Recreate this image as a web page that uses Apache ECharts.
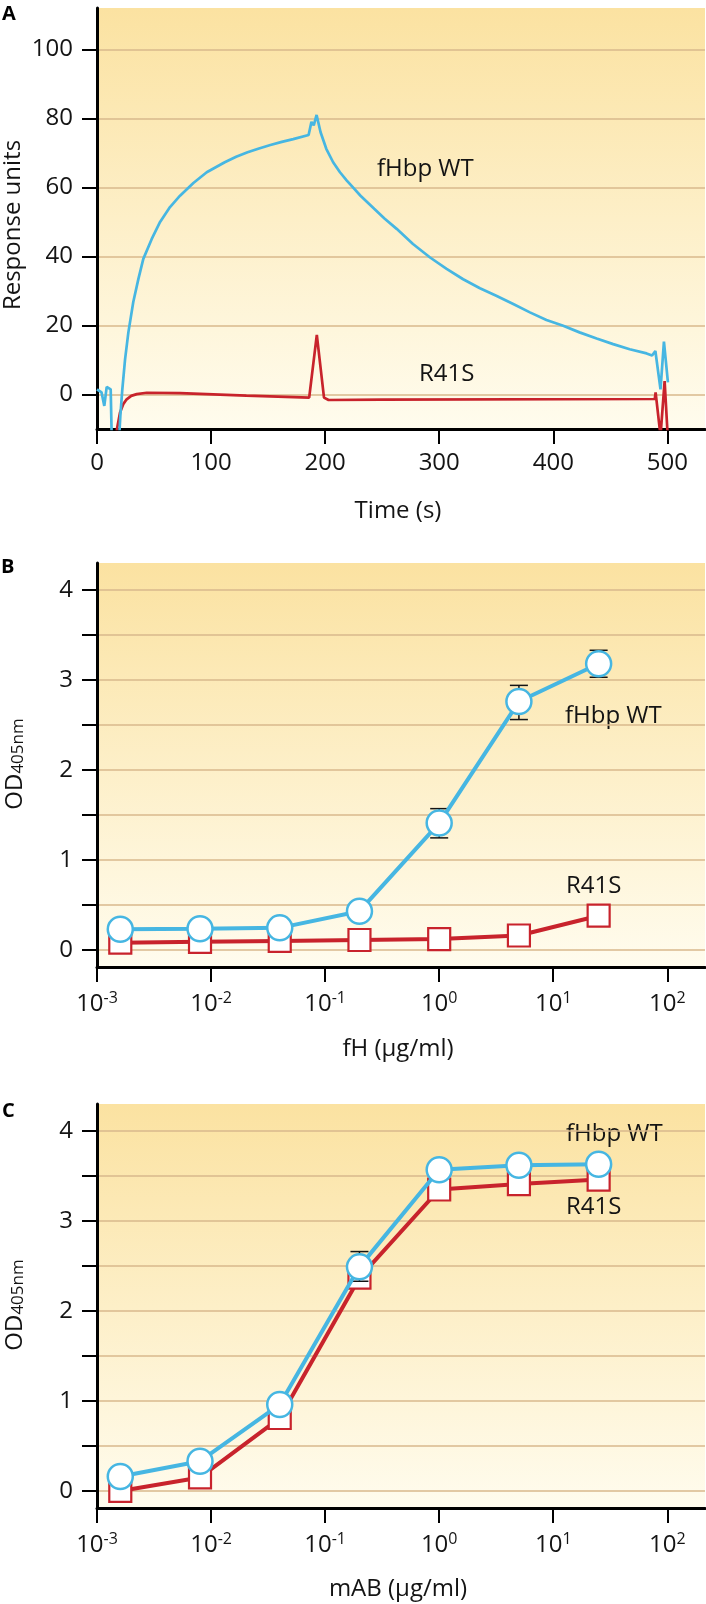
<!DOCTYPE html>
<html><head><meta charset="utf-8">
<script src="https://cdn.jsdelivr.net/npm/echarts@6/dist/echarts.min.js"></script>
<style>html,body{margin:0;padding:0;background:#fff}#c{width:706px;height:1604px}</style>
</head><body><div id="c"></div>
<script>
const FONT = '"Open Sans", "DejaVu Sans", sans-serif';

// ---- Panel A: sensorgram ----
const timeTicks = [0, 100, 200, 300, 400, 500];
const ruTicks = [0, 20, 40, 60, 80, 100];
const wtSensorgram = [
  [0,1.5],[1,1.7],[4,0.6],[6.4,-3.3],[8.5,2.2],[12,1.5],[13,-14],
  [19.5,-12],[20.5,-6],[22.2,1.5],[24.6,10.2],[27.5,18],[31.8,26.8],[36.3,33.5],[40.6,39.3],
  [47.9,45],[55.3,50],[64,54.3],[72.8,57.6],[84.5,61.3],[96.2,64.4],[112,67.3],[122,68.9],
  [132,70.2],[142,71.3],[152,72.3],[162,73.2],[172,74],[185.5,75.2],[188,79],[190,78],
  [192.5,81],[196,76],[201,71.2],[207,67.3],[213,64.4],[219,62],[225,59.8],[231,57.6],
  [237,55.7],[243,53.8],[252,51],[262.7,48],[277,43.6],[292,39.7],[306.5,36.4],[321,33.4],
  [335.7,30.8],[350,28.6],[364.9,26.2],[379.5,23.8],[394,21.6],[408.7,19.9],[423,18],
  [438,16.2],[452.5,14.6],[467,13.1],[481.8,11.9],[486.6,11.3],[489.5,12.6],[494,1.5],
  [497,15.3],[500.5,3.5]
];
const r41sSensorgram = [
  [17,-12],[17.5,-10],[20.2,-5.2],[23,-2.8],[26,-1.4],[30,-0.4],[34.8,0.1],[43.6,0.5],
  [72.8,0.4],[131,-0.3],[186,-0.9],[192.7,17.3],[199,-0.9],[203,-1.6],[250,-1.5],
  [489,-1.3],[489.7,0.6],[494,-12],[497.6,3.9],[500.3,-12]
];

// ---- Panels B and C: ELISA ----
const concentrations = [0.0016, 0.008, 0.04, 0.2, 1, 5, 25];
const logTicks = [0.001, 0.01, 0.1, 1, 10, 100];
const odTicks = [0, 0.5, 1, 1.5, 2, 2.5, 3, 3.5, 4];
const odLabels = [0, 1, 2, 3, 4];
const fhWT = [0.23, 0.235, 0.245, 0.43, 1.41, 2.76, 3.18];
const fhR41S = [0.08, 0.09, 0.10, 0.11, 0.12, 0.16, 0.38];
const fhWTErr = [[1, 1.245, 1.57], [5, 2.56, 2.94], [25, 3.03, 3.33]];
const mabWT = [0.16, 0.33, 0.96, 2.49, 3.57, 3.62, 3.63];
const mabR41S = [0.0, 0.15, 0.81, 2.37, 3.35, 3.41, 3.46];
const mabWTErr = [[0.2, 2.33, 2.66]];

const BLUE = '#46b6e2', RED = '#c8232c', GRID = '#d8b98c', INK = '#141414';
const bg = {type:'linear', x:0, y:0, x2:0, y2:1, colorStops:[{offset:0,color:'#fbe2a1'},{offset:1,color:'#fffcee'}]};

function gridCfg(top, height) {
  return {left:97, width:608, top, height, show:true, backgroundColor:bg, borderWidth:0, containLabel:false};
}
function yAxisCfg(gi, min, max, ticks, labels) {
  return {type:'value', gridIndex:gi, min, max,
    axisLine:{show:true, onZero:false, lineStyle:{color:'#000', width:3}},
    axisTick:{show:true, inside:false, length:15, customValues:ticks, lineStyle:{color:'#000', width:2}},
    axisLabel:{show:true, customValues:labels, margin:24, color:INK, fontSize:24, fontFamily:FONT},
    splitLine:{show:true, lineStyle:{color:GRID, width:1.5}}};
}
function logXAxis(gi) {
  return {type:'log', logBase:10, gridIndex:gi, min:0.001, max:214,
    axisLine:{show:true, onZero:false, lineStyle:{color:'#000', width:3}},
    axisTick:{show:true, length:15, customValues:logTicks, lineStyle:{color:'#000', width:2}},
    axisLabel:{show:true, customValues:logTicks, margin:23, color:INK, fontFamily:FONT,
      formatter: v => '{b|10}{s|' + Math.round(Math.log10(v)) + '}',
      rich:{b:{fontSize:24, lineHeight:26, verticalAlign:'bottom', fontFamily:FONT, color:INK},
            s:{fontSize:16, lineHeight:14, verticalAlign:'top', fontFamily:FONT, color:INK}}},
    splitLine:{show:false}};
}
function pairs(xs, ys) { return xs.map((x, i) => [x, ys[i]]); }
function errSeries(gi, data) {
  return {type:'custom', xAxisIndex:gi, yAxisIndex:gi, z:3, silent:true, data,
    encode:{x:0, y:[1,2]},
    renderItem(params, api) {
      const x = api.value(0);
      const top = api.coord([x, api.value(2)]);
      const bot = api.coord([x, api.value(1)]);
      const w = 9, st = {stroke:INK, lineWidth:1.5};
      return {type:'group', children:[
        {type:'line', shape:{x1:top[0], y1:top[1], x2:bot[0], y2:bot[1]}, style:st},
        {type:'line', shape:{x1:top[0]-w, y1:top[1], x2:top[0]+w, y2:top[1]}, style:st},
        {type:'line', shape:{x1:bot[0]-w, y1:bot[1], x2:bot[0]+w, y2:bot[1]}, style:st}
      ]};
    }};
}
function wtSeries(gi, data) {
  return {type:'line', xAxisIndex:gi, yAxisIndex:gi, z:4, data, symbol:'circle', symbolSize:25,
    showAllSymbol:true, silent:true,
    lineStyle:{color:BLUE, width:4}, itemStyle:{color:'#fff', borderColor:BLUE, borderWidth:2.5}};
}
function r41sSeries(gi, data) {
  return {type:'line', xAxisIndex:gi, yAxisIndex:gi, z:2, data, symbol:'rect', symbolSize:22,
    showAllSymbol:true, silent:true,
    lineStyle:{color:RED, width:4}, itemStyle:{color:'#fff', borderColor:RED, borderWidth:2.2}};
}
function txt(x, y, text, extra) {
  return Object.assign({type:'text', x, y, silent:true,
    style:Object.assign({text, fill:INK, fontSize:24, fontFamily:FONT, align:'left', verticalAlign:'middle'}, extra || {})});
}
function rotTxt(x, y, text, rich) {
  const st = {text, fill:INK, fontSize:24, fontFamily:FONT, align:'center', verticalAlign:'middle'};
  if (rich) st.rich = rich;
  return {type:'text', x, y, rotation:Math.PI/2, silent:true, style:st};
}
const odRich = {a:{fontSize:24, lineHeight:28, verticalAlign:'bottom', fontFamily:FONT, fill:INK, color:INK},
                b:{fontSize:17, lineHeight:19, verticalAlign:'bottom', fontFamily:FONT, fill:INK, color:INK}};
const bold = {fontWeight:'bold', fontSize:20, fill:'#000'};

const chart = echarts.init(document.getElementById('c'), null, {renderer:'canvas'});
chart.setOption({
  animation:false,
  backgroundColor:'#fff',
  grid:[gridCfg(8, 421), gridCfg(563, 404), gridCfg(1104, 404)],
  xAxis:[
    {type:'value', gridIndex:0, min:0, max:533,
      axisLine:{show:true, onZero:false, lineStyle:{color:'#000', width:3}},
      axisTick:{show:true, length:15, customValues:timeTicks, lineStyle:{color:'#000', width:2}},
      axisLabel:{show:true, customValues:timeTicks, margin:22, color:INK, fontSize:24, fontFamily:FONT},
      splitLine:{show:false}},
    logXAxis(1), logXAxis(2)
  ],
  yAxis:[
    yAxisCfg(0, -10, 112, ruTicks, ruTicks),
    yAxisCfg(1, -0.19, 4.3, odTicks, odLabels),
    yAxisCfg(2, -0.19, 4.3, odTicks, odLabels)
  ],
  series:[
    {type:'line', xAxisIndex:0, yAxisIndex:0, z:3, data:r41sSensorgram, showSymbol:false, silent:true,
      lineStyle:{color:RED, width:2.7}},
    {type:'line', xAxisIndex:0, yAxisIndex:0, z:4, data:wtSensorgram, showSymbol:false, silent:true,
      lineStyle:{color:BLUE, width:2.7}},
    r41sSeries(1, pairs(concentrations, fhR41S)),
    errSeries(1, fhWTErr),
    wtSeries(1, pairs(concentrations, fhWT)),
    r41sSeries(2, pairs(concentrations, mabR41S)),
    errSeries(2, mabWTErr),
    wtSeries(2, pairs(concentrations, mabWT))
  ],
  graphic:[
    txt(2, 14.5, 'A', bold),
    txt(1, 567.5, 'B', bold),
    txt(2, 1111, 'C', bold),
    txt(377, 169, 'fHbp WT'),
    txt(419, 374, 'R41S'),
    txt(565, 716.5, 'fHbp WT'),
    txt(566, 886, 'R41S'),
    txt(566, 1134.5, 'fHbp WT'),
    txt(566, 1207, 'R41S'),
    txt(398, 511, 'Time (s)', {align:'center'}),
    txt(398, 1049, 'fH (\u00b5g/ml)', {align:'center'}),
    txt(398, 1589.5, 'mAB (\u00b5g/ml)', {align:'center'}),
    rotTxt(13, 225, 'Response units'),
    rotTxt(13, 764, '{a|OD}{b|405nm}', odRich),
    rotTxt(13, 1305, '{a|OD}{b|405nm}', odRich)
  ]
});
</script>
</body></html>
